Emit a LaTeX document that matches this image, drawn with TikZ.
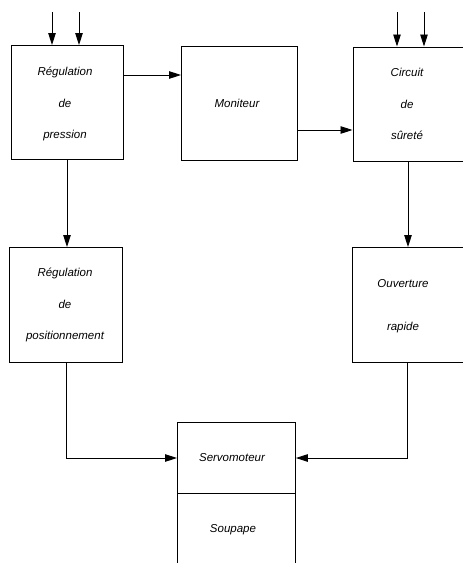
\documentclass[tikz,border=0pt]{standalone}
\usepackage{fontspec}
\setmainfont{Liberation Sans}
\usetikzlibrary{arrows.meta}
\begin{document}
\begin{tikzpicture}[x=1pt,y=-1pt, line width=0.9pt,
  box/.style={draw, rectangle, inner sep=0pt, anchor=north west},
  lbl/.style={font=\fontsize{11.5}{31.5}\selectfont\itshape, align=center, inner sep=0pt},
  arr/.style={-{Triangle[length=12pt,width=7.5pt]}}]
\useasboundingbox (0,0) rectangle (463,563);
\clip (0,0) rectangle (463,563);
% boxes
\node[box, minimum width=112pt, minimum height=114pt] (b1) at (11,45) {};
\node[box, minimum width=116pt, minimum height=114pt] (mon) at (181,46) {};
\node[box, minimum width=130pt, minimum height=114.5pt] (cir) at (352.5,46.5) {};
\node[box, minimum width=113pt, minimum height=115pt] (pos) at (9,247) {};
\node[box, minimum width=130pt, minimum height=115pt] (ouv) at (352,247) {};
\node[box, minimum width=118pt, minimum height=71pt] (servo) at (177,422) {};
\node[box, minimum width=118pt, minimum height=90pt] (soup) at (177,493) {};
% labels
\node[lbl] (t1) at (65,104) {Régulation\\de\\pression};
\node[lbl] (tmon) at (237,103) {Moniteur};
\node[lbl] (tcir) at (407,104) {Circuit\\de\\sûreté};
\node[lbl] (tpos) at (65,305) {Régulation\\de\\positionnement};
\node[lbl, font=\fontsize{11.5}{43}\selectfont\itshape] (touv) at (403,306.5) {Ouverture\\rapide};
\node[lbl] (tservo) at (232,458) {Servomoteur};
\node[lbl] (tsoup) at (233,530) {Soupape};
% inputs
\coordinate (in1) at (52,12);
\coordinate (in2) at (79,12);
\coordinate (in3) at (397,12);
\coordinate (in4) at (424,12);
\draw[arr] (in1) -- (in1 |- b1.north);
\draw[arr] (in2) -- (in2 |- b1.north);
\draw[arr] (in3) -- (in3 |- cir.north);
\draw[arr] (in4) -- (in4 |- cir.north);
% connectors
\draw[arr] (b1.east |- 0,75) -- (mon.west |- 0,75);
\draw[arr] (mon.east |- 0,130) -- (cir.west |- 0,130);
\draw[arr] (b1.south -| 67,0) -- (pos.north -| 67,0);
\draw[arr] (cir.south -| 408,0) -- (ouv.north -| 408,0);
\draw[arr] (pos.south -| 66,0) |- (servo.west |- 0,458);
\draw[arr] (ouv.south -| 407,0) |- (servo.east |- 0,458);
\end{tikzpicture}
\end{document}
